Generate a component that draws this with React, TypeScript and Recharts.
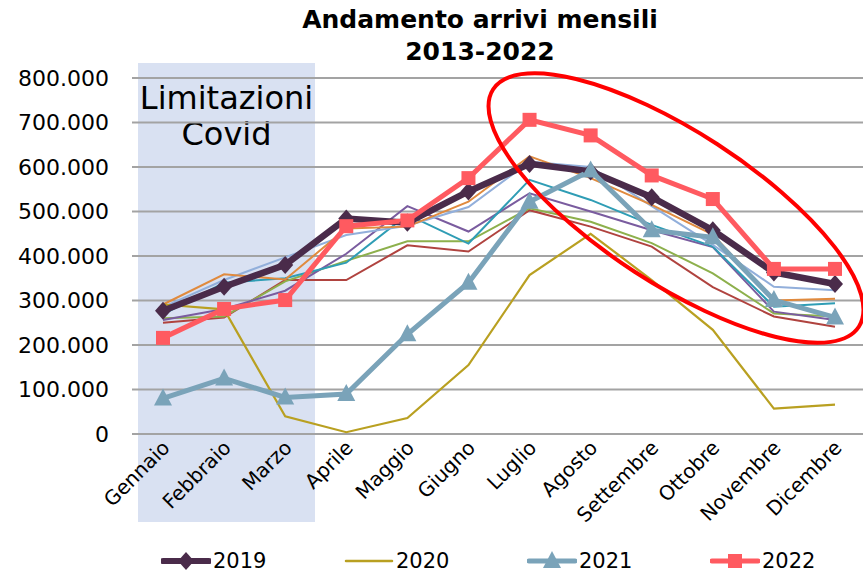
import React from 'react';
import { LineChart, Line, XAxis, YAxis, CartesianGrid } from 'recharts';

const months = ['Gennaio', 'Febbraio', 'Marzo', 'Aprile', 'Maggio', 'Giugno', 'Luglio', 'Agosto', 'Settembre', 'Ottobre', 'Novembre', 'Dicembre'];

const y2013 = [250000, 262000, 346000, 346000, 424000, 410000, 503000, 466000, 421000, 330000, 264000, 241000];
const y2014 = [260000, 264000, 343000, 389000, 433000, 433000, 507000, 477000, 429000, 361000, 271000, 264000];
const y2015 = [256000, 281000, 322000, 405000, 512000, 455000, 541000, 500000, 458000, 420000, 275000, 256000];
const y2016 = [269000, 340000, 350000, 385000, 493000, 428000, 571000, 526000, 470000, 421000, 286000, 294000];
const y2017 = [285000, 346000, 397000, 447000, 468000, 510000, 612000, 600000, 512000, 425000, 331000, 323000];
const y2018 = [291000, 359000, 347000, 462000, 466000, 522000, 624000, 575000, 515000, 448000, 300000, 304000];
const y2019 = [277000, 331000, 380000, 484000, 475000, 545000, 607000, 590000, 532000, 458000, 363000, 337000];
const y2020 = [291000, 280000, 40000, 4000, 36000, 155000, 357000, 450000, 346000, 234000, 57000, 66000];
const y2021 = [80000, 125000, 82000, 90000, 224000, 340000, 522000, 592000, 458000, 442000, 301000, 262000];
const y2022 = [216000, 281000, 301000, 467000, 480000, 575000, 706000, 671000, 581000, 528000, 371000, 371000];

const yTicks = [0, 100000, 200000, 300000, 400000, 500000, 600000, 700000, 800000];

const titleLines = ['Andamento arrivi mensili', '2013-2022'];
const annotationLines = ['Limitazioni', 'Covid'];

const data = months.map((m, i) => ({
  month: m,
  y2013: y2013[i],
  y2014: y2014[i],
  y2015: y2015[i],
  y2016: y2016[i],
  y2017: y2017[i],
  y2018: y2018[i],
  y2019: y2019[i],
  y2020: y2020[i],
  y2021: y2021[i],
  y2022: y2022[i],
}));

const FONT = '"DejaVu Sans", sans-serif';

const C2019 = '#4a2b4a';
const C2020 = '#b9a021';
const C2021 = '#7aa3b9';
const C2022 = '#ff5a60';

const thinSeries = [
  { key: 'y2013', color: '#b0433f' },
  { key: 'y2014', color: '#8db04c' },
  { key: 'y2015', color: '#7a5c9f' },
  { key: 'y2016', color: '#2f9db5' },
  { key: 'y2017', color: '#92afdb' },
  { key: 'y2018', color: '#e08a3e' },
];

const fmt = (v: number) => String(v).replace(/\B(?=(\d{3})+(?!\d))/g, '.');

const Diamond = (props: any) => {
  const { cx, cy, index } = props;
  if (cx == null || cy == null) return <g key={`d${index}`} />;
  return (
    <path key={`d${index}`} d={`M${cx},${cy - 9}L${cx + 8},${cy}L${cx},${cy + 9}L${cx - 8},${cy}Z`} fill={C2019} />
  );
};

const Triangle = (props: any) => {
  const { cx, cy, index } = props;
  if (cx == null || cy == null) return <g key={`t${index}`} />;
  return (
    <path key={`t${index}`} d={`M${cx},${cy - 10}L${cx + 9},${cy + 7}L${cx - 9},${cy + 7}Z`} fill={C2021} />
  );
};

const Square = (props: any) => {
  const { cx, cy, index } = props;
  if (cx == null || cy == null) return <g key={`s${index}`} />;
  return <rect key={`s${index}`} x={cx - 7} y={cy - 7} width={14} height={14} fill={C2022} />;
};

const XTick = (props: any) => {
  const { x, y, payload } = props;
  const tx = x + 8;
  const ty = y + 15;
  return (
    <text
      x={tx}
      y={ty}
      transform={`rotate(-45, ${tx}, ${ty})`}
      textAnchor="end"
      fontSize={20}
      fontFamily={FONT}
      fill="#000"
    >
      {payload.value}
    </text>
  );
};

const legendItems = [
  { label: '2019', color: C2019, marker: 'diamond', width: 6 },
  { label: '2020', color: C2020, marker: 'none', width: 2.5 },
  { label: '2021', color: C2021, marker: 'triangle', width: 5 },
  { label: '2022', color: C2022, marker: 'square', width: 5 },
];

const LegendIcon = ({ item }: any) => (
  <svg width={50} height={24} style={{ display: 'block' }}>
    <line x1={2} y1={12} x2={48} y2={12} stroke={item.color} strokeWidth={item.width} strokeLinecap="round" />
    {item.marker === 'diamond' && <path d="M25,3L33,12L25,21L17,12Z" fill={item.color} />}
    {item.marker === 'triangle' && <path d="M25,2L34,19L16,19Z" fill={item.color} />}
    {item.marker === 'square' && <rect x={18} y={5} width={14} height={14} fill={item.color} />}
  </svg>
);

export default function App() {
  return (
    <div style={{ position: 'absolute', left: 0, top: 0, width: 863, height: 574, overflow: 'hidden', background: '#fff', fontFamily: FONT }}>
      <div
        style={{
          position: 'absolute',
          left: 138,
          top: 63,
          width: 177,
          height: 459,
          background: '#d9e1f2',
        }}
      />
      <div
        style={{
          position: 'absolute',
          left: 128,
          top: 80,
          width: 197,
          textAlign: 'center',
          fontSize: 32,
          lineHeight: '36px',
          color: '#000',
        }}
      >
        {annotationLines.map((l) => (
          <div key={l}>{l}</div>
        ))}
      </div>

      <div
        style={{
          position: 'absolute',
          left: 180,
          top: 4,
          width: 600,
          textAlign: 'center',
          fontWeight: 'bold',
          fontSize: 25,
          lineHeight: '32px',
          color: '#000',
        }}
      >
        {titleLines.map((l) => (
          <div key={l}>{l}</div>
        ))}
      </div>

      <div style={{ position: 'absolute', left: 0, top: 0 }}>
        <LineChart width={866} height={574} data={data} margin={{ top: 78, right: 0, bottom: 0, left: 0 }}>
          <CartesianGrid vertical={false} stroke="#a3a3a3" strokeWidth={2} />
          <XAxis
            dataKey="month"
            height={140}
            axisLine={false}
            tickLine={false}
            tickSize={0}
            tickMargin={0}
            interval={0}
            padding={{ left: 31, right: 31 }}
            tick={<XTick />}
          />
          <YAxis
            width={132}
            domain={[0, 800000]}
            ticks={yTicks}
            interval={0}
            axisLine={false}
            tickLine={false}
            tickSize={0}
            tickMargin={23}
            tickFormatter={fmt}
            tick={{ fontSize: 22, fill: '#000', fontFamily: FONT }}
          />
          {thinSeries.map((s) => (
            <Line
              key={s.key}
              type="linear"
              dataKey={s.key}
              stroke={s.color}
              strokeWidth={2}
              dot={false}
              activeDot={false}
              isAnimationActive={false}
            />
          ))}
          <Line type="linear" dataKey="y2020" stroke={C2020} strokeWidth={2.2} dot={false} activeDot={false} isAnimationActive={false} />
          <Line type="linear" dataKey="y2019" stroke={C2019} strokeWidth={6.5} dot={Diamond} activeDot={false} isAnimationActive={false} />
          <Line type="linear" dataKey="y2021" stroke={C2021} strokeWidth={5} dot={Triangle} activeDot={false} isAnimationActive={false} />
          <Line type="linear" dataKey="y2022" stroke={C2022} strokeWidth={5} dot={Square} activeDot={false} isAnimationActive={false} />
        </LineChart>
      </div>

      <svg width={863} height={574} style={{ position: 'absolute', left: 0, top: 0, pointerEvents: 'none' }}>
        <ellipse cx={676} cy={208} rx={218} ry={76} transform="rotate(33 676 208)" fill="none" stroke="#ff0000" strokeWidth={4} />
      </svg>

      <div style={{ position: 'absolute', left: 161, top: 549, display: 'flex' }}>
        {legendItems.map((it) => (
          <div key={it.label} style={{ width: 183, display: 'flex', alignItems: 'center' }}>
            <LegendIcon item={it} />
            <span style={{ fontSize: 21, marginLeft: 2, color: '#000' }}>{it.label}</span>
          </div>
        ))}
      </div>
    </div>
  );
}
